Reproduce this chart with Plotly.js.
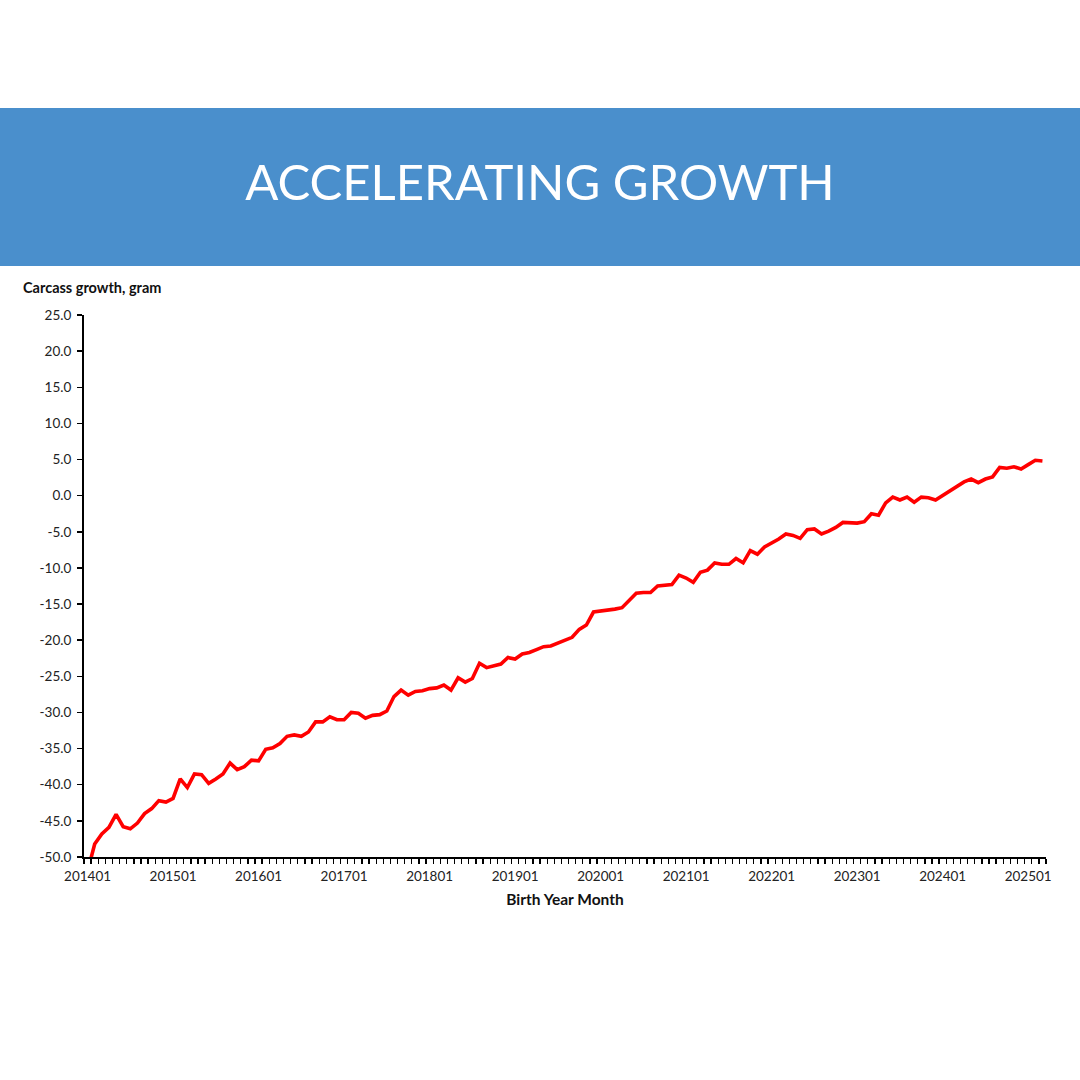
<!DOCTYPE html>
<html>
<head>
<meta charset="utf-8">
<script src="https://cdn.plot.ly/plotly-3.0.1.min.js"></script>
<style>
  html, body { margin: 0; padding: 0; background: #fff; }
  #chart { width: 1080px; height: 1080px; }
</style>
</head>
<body>
<div id="chart"></div>
<script>
// birth year-month categories, 201401 .. 202503
const months = [];
for (let y = 2014; y <= 2025; y++) {
    for (let m = 1; m <= 12; m++) {
        if (y === 2025 && m > 3) break;
        months.push(String(y) + String(m).padStart(2, '0'));
    }
}

// carcass growth (gram)
const growth = [
    -52.0, -48.2, -46.8, -45.9, -44.1, -45.8, -46.1, -45.3, -44.0, -43.3, -42.2, -42.4,
    -41.9, -39.2, -40.4, -38.5, -38.6, -39.8, -39.2, -38.5, -37.0, -37.9, -37.5, -36.6,
    -36.7, -35.1, -34.9, -34.3, -33.3, -33.1, -33.3, -32.7, -31.3, -31.3, -30.6, -31.0,
    -31.0, -30.0, -30.1, -30.8, -30.4, -30.3, -29.8, -27.8, -26.9, -27.6, -27.1, -27.0,
    -26.7, -26.6, -26.2, -26.9, -25.2, -25.8, -25.3, -23.2, -23.8, -23.5, -23.3, -22.4,
    -22.6, -21.9, -21.7, -21.3, -20.9, -20.8, -20.4, -20.1, -19.6, -18.5, -17.9, -16.1,
    -16.0, -15.9, -15.7, -15.5, -14.5, -13.5, -13.4, -13.4, -12.5, -12.4, -12.3, -11.0,
    -11.4, -12.0, -10.6, -10.3, -9.3, -9.5, -9.5, -8.7, -9.3, -7.6, -8.1, -7.1,
    -6.6, -6.0, -5.3, -5.5, -5.9, -4.7, -4.6, -5.3, -4.9, -4.4, -3.7, -3.7,
    -3.8, -3.6, -2.5, -2.7, -1.0, -0.2, -0.6, -0.2, -0.9, -0.2, -0.3, -0.6,
    0.0, 0.7, 1.3, 1.9, 2.3, 1.8, 2.3, 2.6, 3.9, 3.8, 4.0, 3.7,
    4.3, 4.9, 4.8
];

const tickLabels = ['201401', '201501', '201601', '201701', '201801', '201901',
    '202001', '202101', '202201', '202301', '202401', '202501'];
const yTicks = [25, 20, 15, 10, 5, 0, -5, -10, -15, -20, -25, -30, -35, -40, -45, -50];

const font = "Lato, 'Open Sans', sans-serif";

const trace = {
    x: months.map((m, i) => i),
    y: growth,
    text: months,
    type: 'scatter',
    mode: 'lines',
    line: { color: '#ff0000', width: 3.6 },
    hoverinfo: 'text+y'
};

const layout = {
    width: 1080,
    height: 1080,
    paper_bgcolor: '#ffffff',
    plot_bgcolor: '#ffffff',
    showlegend: false,
    margin: { l: 84, r: 34, t: 315, b: 223 },
    font: { family: font, size: 13, color: '#222' },
    title: {
        text: 'ACCELERATING GROWTH',
        font: { family: font, size: 49, color: '#ffffff', weight: 'normal' },
        xref: 'container', x: 0.5, xanchor: 'center',
        yref: 'container', y: 1 - 183 / 1080, yanchor: 'middle'
    },
    xaxis: {
        range: [-0.5, months.length - 0.5],
        tickvals: tickLabels.map(l => months.indexOf(l)),
        ticktext: tickLabels,
        ticks: '',
        ticklabelstandoff: 6,
        showgrid: false,
        zeroline: false,
        showline: true,
        linecolor: '#000',
        linewidth: 2,
        tickfont: { family: font, size: 13.5, color: '#222' },
        minor: { tick0: -0.5, dtick: 1, ticks: 'outside', ticklen: 5, tickwidth: 1.3, tickcolor: '#000', showgrid: false },
        title: { text: 'Birth Year Month', font: { family: font, size: 15.5, color: '#111', weight: 'bold' }, standoff: 11 }
    },
    yaxis: {
        range: [-50, 25],
        tickvals: yTicks,
        ticktext: yTicks.map(v => v.toFixed(1)),
        ticks: 'outside',
        ticklen: 5,
        tickwidth: 1.5,
        tickcolor: '#000',
        ticklabelstandoff: 3,
        showgrid: false,
        zeroline: false,
        showline: true,
        linecolor: '#000',
        linewidth: 2,
        tickfont: { family: font, size: 13.5, color: '#222' }
    },
    shapes: [{
        type: 'rect', layer: 'below',
        xref: 'paper', yref: 'paper',
        x0: -84 / 962, x1: 1 + 34 / 962,
        y0: (857 - 266) / 542, y1: (857 - 108) / 542,
        fillcolor: '#4a8fcc', line: { width: 0 }
    }],
    annotations: [{
        text: '<b>Carcass growth, gram</b>',
        xref: 'paper', yref: 'paper',
        x: -63 / 962, xanchor: 'left',
        y: (857 - 288) / 542, yanchor: 'middle',
        showarrow: false,
        font: { family: font, size: 14.5, color: '#111' }
    }]
};

Plotly.newPlot('chart', [trace], layout, { displayModeBar: false, staticPlot: true });
</script>
</body>
</html>
